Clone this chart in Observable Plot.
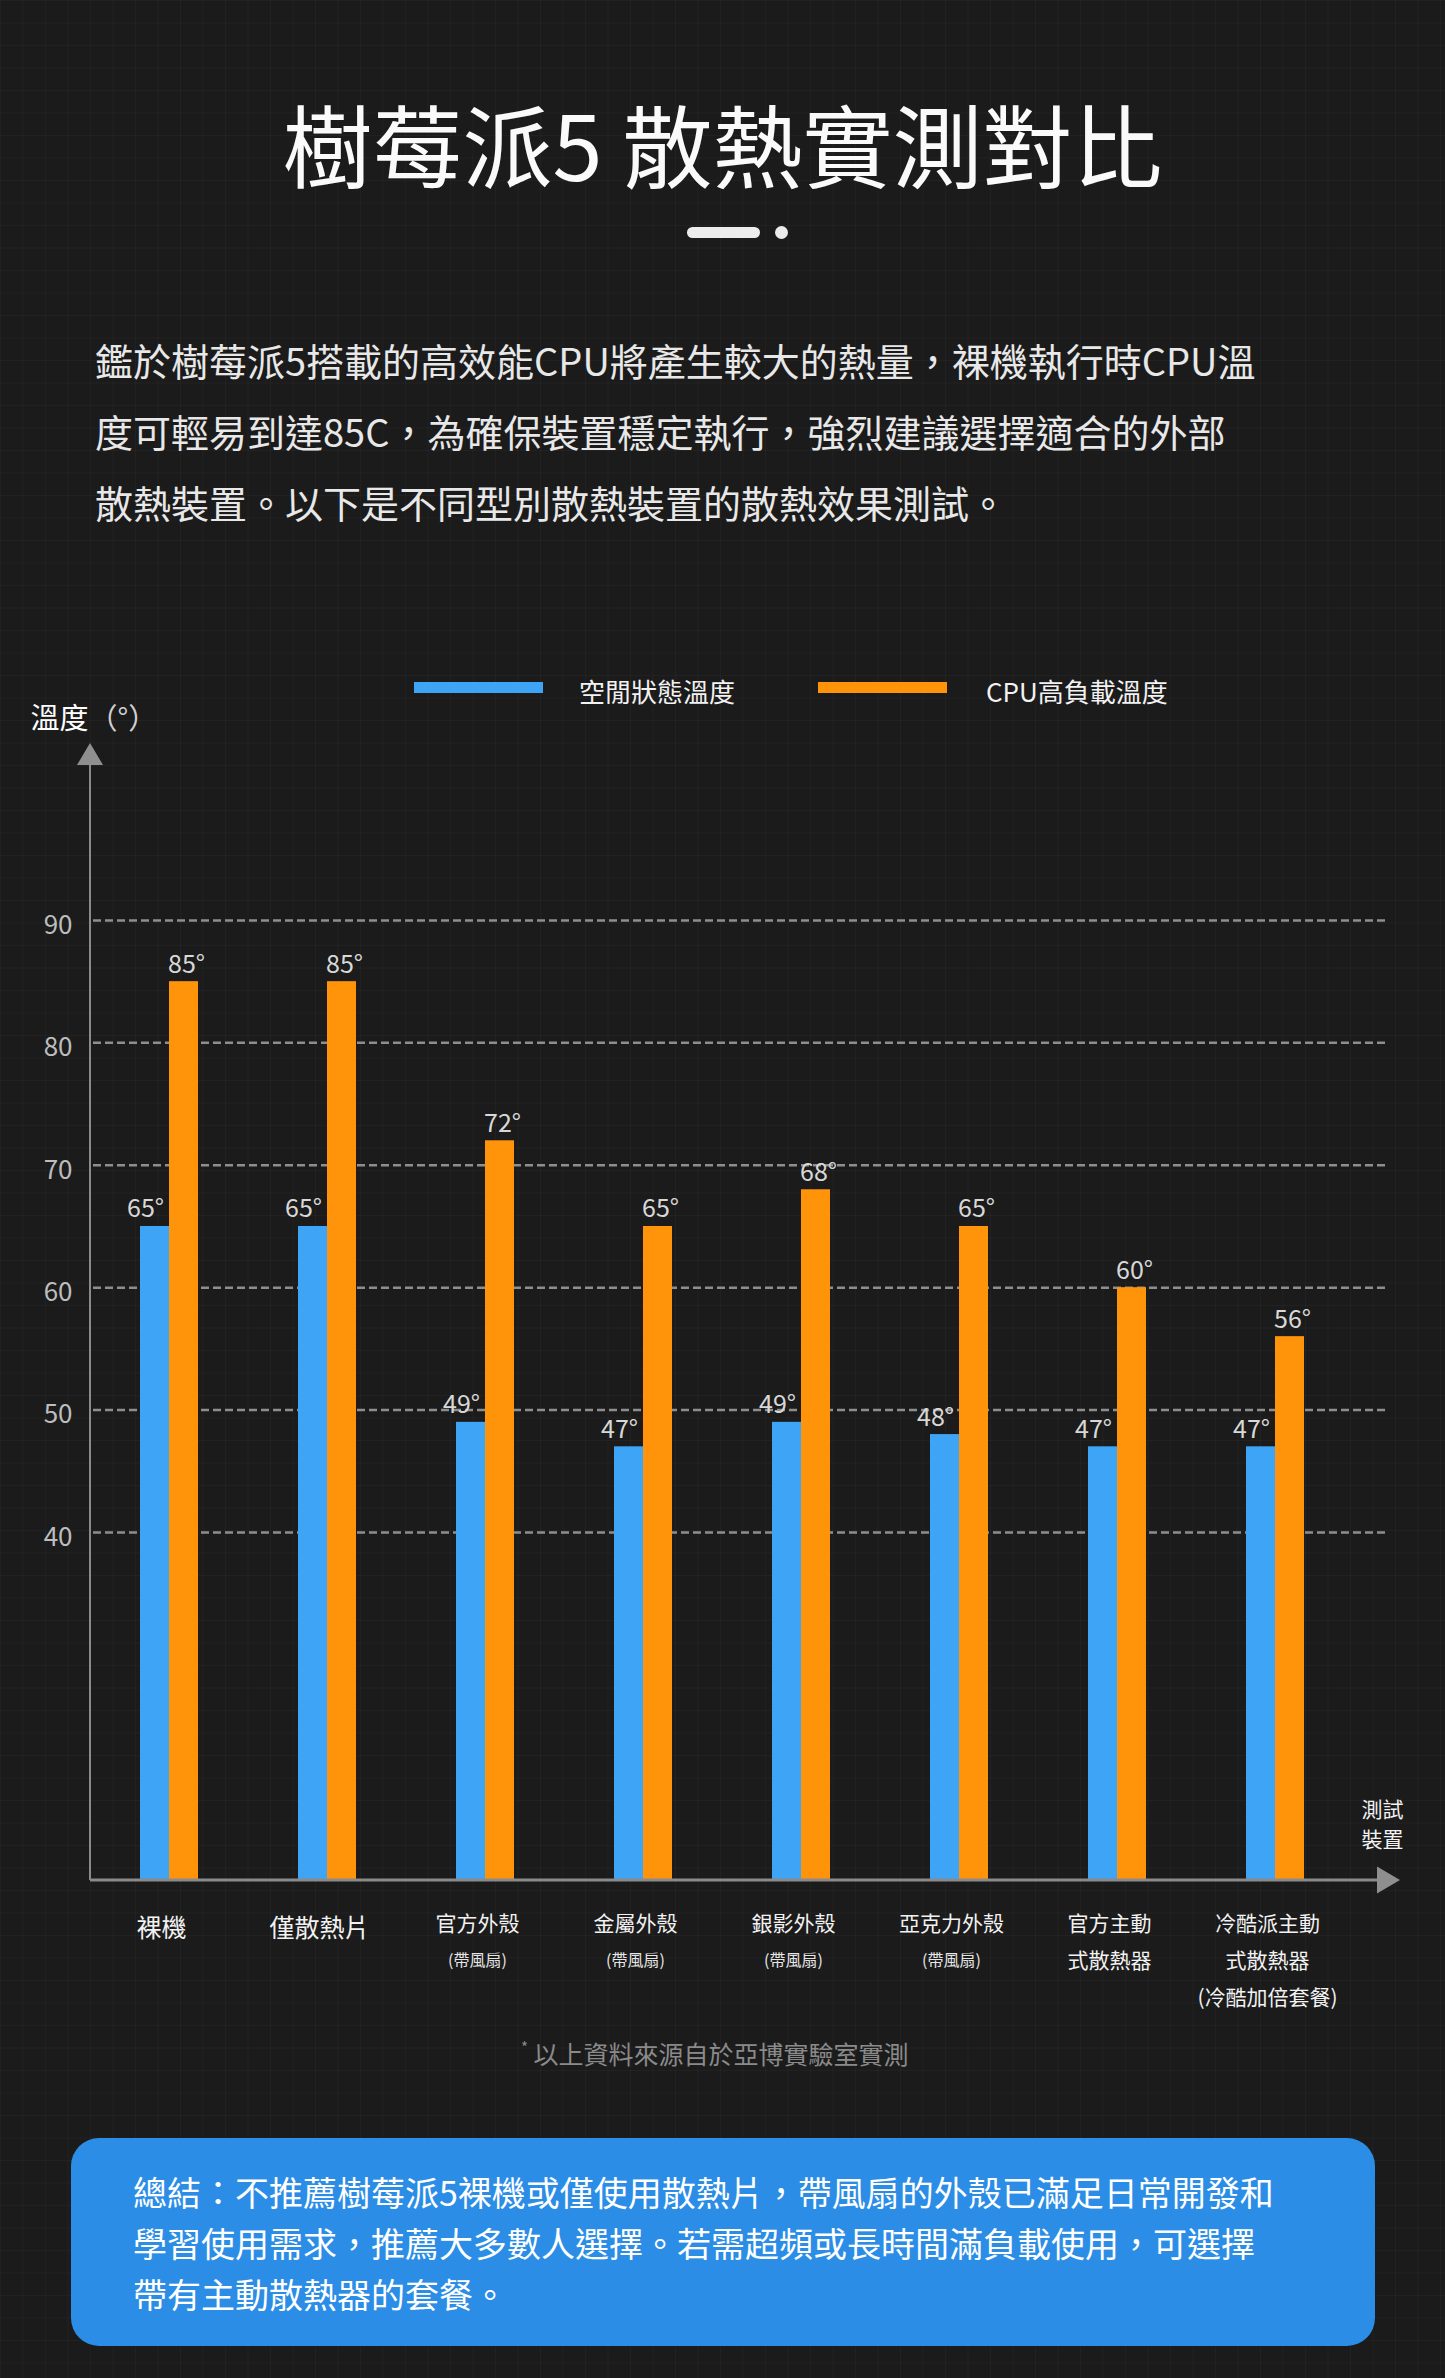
<!DOCTYPE html>
<html>
<head>
<meta charset="utf-8">
<script src="https://cdn.jsdelivr.net/npm/d3@7"></script>
<script src="https://cdn.jsdelivr.net/npm/@observablehq/plot@0.6"></script>
<style>
  html, body { margin: 0; padding: 0; background: #1b1b1b; }
  body {
    width: 1445px; height: 2378px; position: relative; overflow: hidden;
    font-family: "Noto Sans CJK TC", "Noto Sans", sans-serif;
    background-image:
      linear-gradient(rgba(255,255,255,0.028) 1px, transparent 1px),
      linear-gradient(90deg, rgba(255,255,255,0.028) 1px, transparent 1px);
    background-size: 22.5px 22.5px;
  }
  .abs { position: absolute; white-space: nowrap; }
  #title { top: 97px; left: 0; width: 1445px; text-align: center; font-size: 90px; line-height: 90px; color: #fafafa; font-weight: 400; }
  #pill { left: 687px; top: 227px; width: 73px; height: 11px; border-radius: 6px; background: #ececec; }
  #dot { left: 775px; top: 226px; width: 13px; height: 13px; border-radius: 50%; background: #ececec; }
  #intro { left: 95px; top: 324px; font-size: 38px; line-height: 71px; color: #e8e8e8; }
  .swatch { top: 682px; width: 129px; height: 11px; }
  .leglabel { top: 678px; font-size: 26px; line-height: 26px; color: #f2f2f2; }
  #chart { position: absolute; left: 0; top: 705px; }
  #chart svg { display: block; }
  #note { left: 521px; top: 2039px; font-size: 25px; line-height: 28px; color: #8a8a8a; }
  #note sup { font-size: 15px; vertical-align: top; line-height: 15px; }
  #summary { left: 71px; top: 2138px; width: 1304px; height: 208px; border-radius: 28px; background: #2b8de6; }
  #summary div { position: absolute; left: 62px; top: 28px; font-size: 34px; line-height: 51px; color: #ffffff; white-space: nowrap; }
</style>
</head>
<body>
<div id="title" class="abs">樹莓派5 散熱實測對比</div>
<div id="pill" class="abs"></div>
<div id="dot" class="abs"></div>
<div id="intro" class="abs">鑑於樹莓派5搭載的高效能CPU將產生較大的熱量，裸機執行時CPU溫<br>度可輕易到達85C，為確保裝置穩定執行，強烈建議選擇適合的外部<br>散熱裝置。以下是不同型別散熱裝置的散熱效果測試。</div>
<div id="legend"></div>
<div id="chart"></div>
<div id="note" class="abs"><sup>*</sup> 以上資料來源自於亞博實驗室實測</div>
<div id="summary" class="abs"><div>總結：不推薦樹莓派5裸機或僅使用散熱片，帶風扇的外殼已滿足日常開發和<br>學習使用需求，推薦大多數人選擇。若需超頻或長時間滿負載使用，可選擇<br>帶有主動散熱器的套餐。</div></div>
<script>
// ---- data ----
const categories = ["裸機", "僅散熱片", "官方外殼", "金屬外殼", "銀影外殼", "亞克力外殼", "官方主動", "冷酷派主動"];
const labelLine2 = ["", "", "(帶風扇)", "(帶風扇)", "(帶風扇)", "(帶風扇)", "式散熱器", "式散熱器"];
const labelLine3 = ["", "", "", "", "", "", "", "(冷酷加倍套餐)"];
const idleTemps = [65, 65, 49, 47, 49, 48, 47, 47];
const loadTemps = [85, 85, 72, 65, 68, 65, 60, 56];
const seriesNames = ["空閒狀態溫度", "CPU高負載溫度"];
const yTicks = [40, 50, 60, 70, 80, 90];
const yTitle = "溫度";
const yUnit = "（°）";
const xTitle = "測試\n裝置";

// ---- style ----
const BLUE = "#3ea4f6", ORANGE = "#ff930a";
const FONT = "Noto Sans CJK TC, Noto Sans, sans-serif";
const colors = [BLUE, ORANGE];

// ---- legend (HTML, above the chart) ----
const legend = document.getElementById("legend");
const legendLeft = [414, 818], labelLeft = [579, 986];
seriesNames.forEach((name, i) => {
  const sw = document.createElement("div");
  sw.className = "abs swatch";
  sw.style.left = legendLeft[i] + "px";
  sw.style.background = colors[i];
  legend.appendChild(sw);
  const lb = document.createElement("div");
  lb.className = "abs leglabel";
  lb.style.left = labelLeft[i] + "px";
  lb.textContent = name;
  legend.appendChild(lb);
});

// ---- chart ----
const rows = categories.map((c, i) => ({cat: c, line2: labelLine2[i], line3: labelLine3[i], idle: idleTemps[i], load: loadTemps[i]}));

const W = 1445, H = 1325, ML = 90, MR = 45, MT = 60, MB = 150;
const yMin = 11.57, yMax = 102.66;

const chart = Plot.plot({
  width: W, height: H,
  marginLeft: ML, marginRight: MR, marginTop: MT, marginBottom: MB,
  style: {background: "transparent", color: "#bdbdbd", fontFamily: FONT, overflow: "visible"},
  x: {type: "band", domain: categories, range: [86.65, 1356.35], paddingInner: 0.6345, paddingOuter: 0.3173, align: 0.5, axis: null},
  y: {domain: [yMin, yMax]},
  marks: [
    Plot.gridY(yTicks, {stroke: "#8e8e8e", strokeOpacity: 1, strokeWidth: 2.5, strokeDasharray: "8,4", insetLeft: 3, insetRight: 15}),
    Plot.axisY(yTicks, {tickSize: 0, tickPadding: 18, fontSize: 26, fill: "#bdbdbd", dy: 5, label: null}),
    Plot.barY(rows, {x: "cat", y1: yMin, y2: "idle", fill: BLUE, insetRight: 29}),
    Plot.barY(rows, {x: "cat", y1: yMin, y2: "load", fill: ORANGE, insetLeft: 29}),
    Plot.text(rows, {x: "cat", y: "idle", text: d => d.idle + "°", dx: -24, dy: -9, lineAnchor: "bottom", fontSize: 25, fill: "#d8d8d8"}),
    Plot.text(rows, {x: "cat", y: "load", text: d => d.load + "°", dx: 17, dy: -9, lineAnchor: "bottom", fontSize: 25, fill: "#d8d8d8"}),
    // category labels
    Plot.text(rows.filter(d => !d.line2), {x: "cat", text: "cat", frameAnchor: "bottom", lineAnchor: "middle", dx: -8, dy: 48, fontSize: 25, fill: "#f2f2f2"}),
    Plot.text(rows.filter(d => d.line2), {x: "cat", text: "cat", frameAnchor: "bottom", lineAnchor: "middle", dx: -8, dy: 44, fontSize: 21, fill: "#f2f2f2"}),
    Plot.text(rows.filter(d => d.line2.startsWith("(")), {x: "cat", text: "line2", frameAnchor: "bottom", lineAnchor: "middle", dx: -8, dy: 80, fontSize: 16, fill: "#e6e6e6"}),
    Plot.text(rows.filter(d => d.line2 && !d.line2.startsWith("(")), {x: "cat", text: "line2", frameAnchor: "bottom", lineAnchor: "middle", dx: -8, dy: 81, fontSize: 21, fill: "#f2f2f2"}),
    Plot.text(rows.filter(d => d.line3), {x: "cat", text: "line3", frameAnchor: "bottom", lineAnchor: "middle", dx: -8, dy: 118, fontSize: 21, fill: "#f2f2f2"}),
    // axis titles
    Plot.text([yTitle], {frameAnchor: "top-left", textAnchor: "start", lineAnchor: "middle", dx: -60, dy: -46, fontSize: 29, fill: "#ffffff"}),
    Plot.text([yUnit], {frameAnchor: "top-left", textAnchor: "start", lineAnchor: "middle", dx: -2, dy: -46, fontSize: 29, fill: "#d0d0d0"}),
    Plot.text([xTitle], {frameAnchor: "bottom-right", textAnchor: "middle", lineAnchor: "middle", dx: -18, dy: -58, fontSize: 21, lineHeight: 1.43, fill: "#f2f2f2"})
  ]
});

// axis lines with arrow heads, derived from the frame
const svg = d3.select(chart);
const fb = H - MB, fr = W - MR;
const g = svg.append("g");
g.append("line").attr("x1", ML).attr("x2", ML).attr("y1", fb).attr("y2", MT).attr("stroke", "#8a8a8a").attr("stroke-width", 2);
g.append("path").attr("d", `M${ML - 13},${MT} L${ML + 13},${MT} L${ML},${MT - 22} Z`).attr("fill", "#8f8f8f");
g.append("line").attr("x1", ML).attr("x2", fr - 22).attr("y1", fb).attr("y2", fb).attr("stroke", "#8a8a8a").attr("stroke-width", 3);
g.append("path").attr("d", `M${fr - 23},${fb - 13.5} L${fr - 23},${fb + 13.5} L${fr},${fb} Z`).attr("fill", "#8f8f8f");

document.getElementById("chart").appendChild(chart);
</script>
</body>
</html>
